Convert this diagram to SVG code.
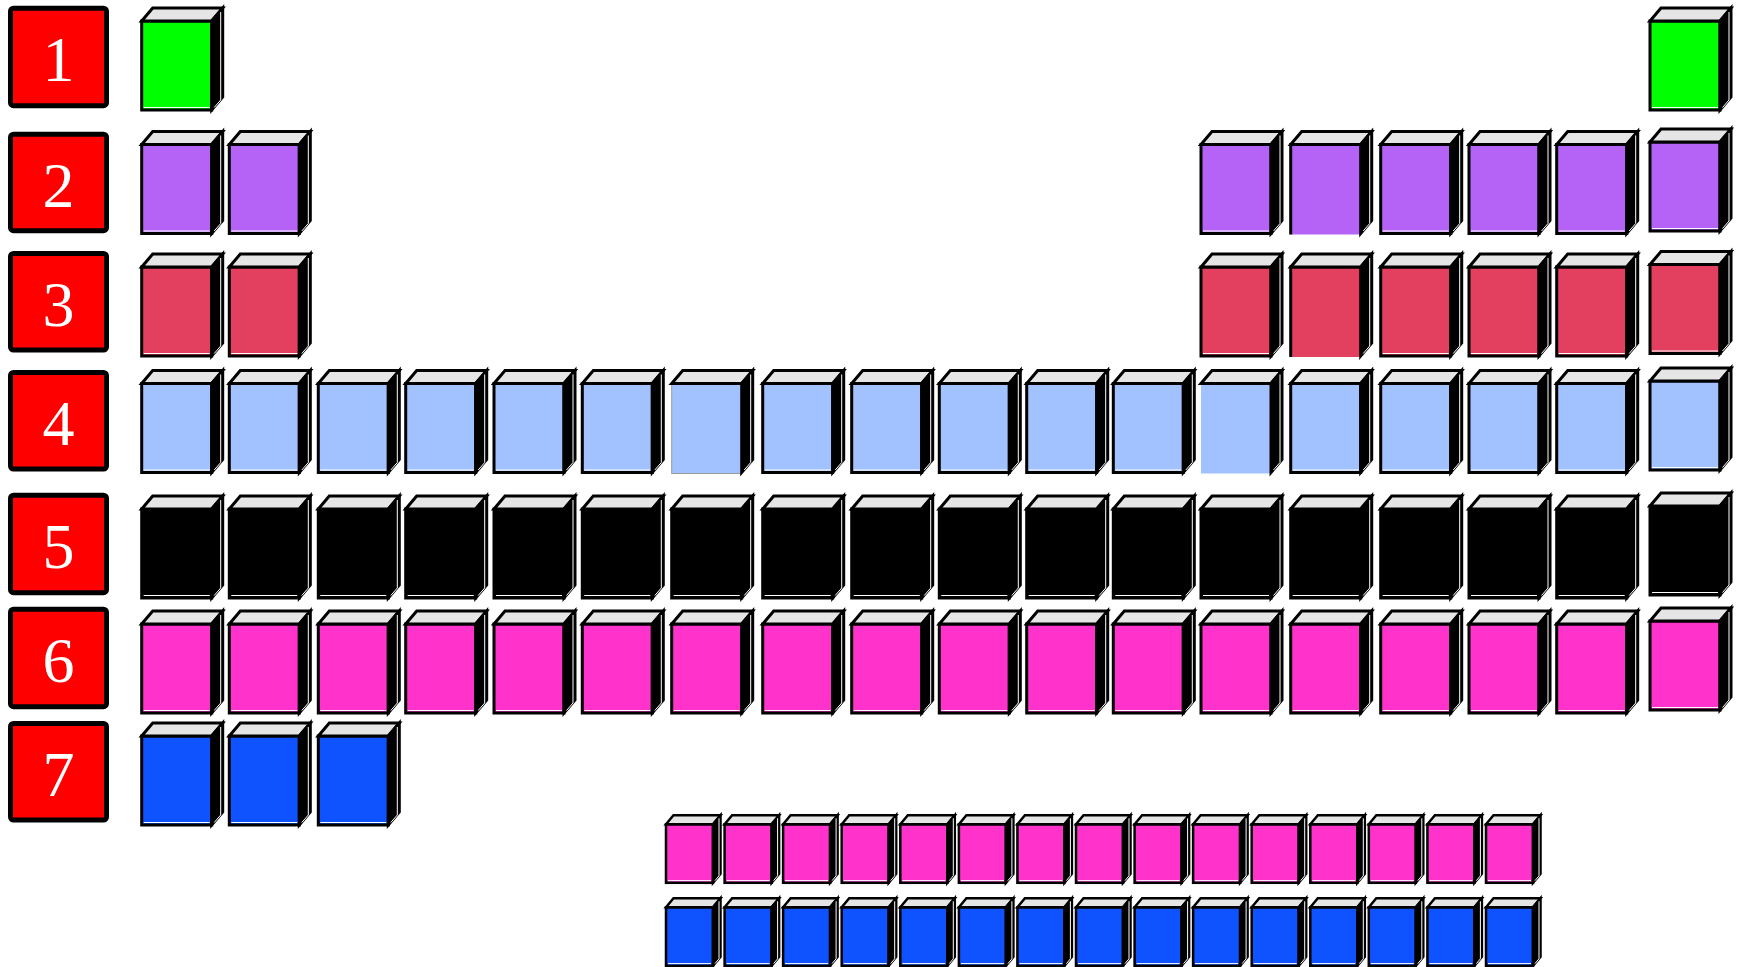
<svg xmlns="http://www.w3.org/2000/svg" xmlns:xlink="http://www.w3.org/1999/xlink" width="1737" height="967" viewBox="0 0 1737 967">
<style>
.lab rect{fill:#ff0000;stroke:#000;stroke-width:5}
.lab text{font-family:"Liberation Serif","Times New Roman",serif;font-size:64px;fill:#fff;text-anchor:middle}
.front{stroke:#000;stroke-width:3;stroke-linejoin:miter}
.top{fill:#e5e5e5;stroke:#000;stroke-width:3;stroke-linejoin:miter}
.side{fill:#000;stroke:#000;stroke-width:3;stroke-linejoin:miter}
.edge{fill:none;stroke:#000;stroke-width:3}
.hl{fill:none;stroke:#fff;stroke-width:1}
.fs{stroke:#000;stroke-width:2.5}
.ts{fill:#e5e5e5;stroke:#000;stroke-width:2.5}
.ss{fill:#000;stroke:#000;stroke-width:2.5}
.g{fill:#00ff00}.p{fill:#b563f6}.r{fill:#e3405f}.b{fill:#a2c1ff}.k{fill:#000}.m{fill:#ff33cc}.u{fill:#0f52ff}
</style>
<defs>
<g id="cube">
<rect class="front" x="0" y="0" width="70" height="89"/>
<path class="top" d="M0,0 L11,-13 L81,-13 L70,0 Z"/>
<path class="side" d="M70,0 L81,-13 L81,76 L70,89 Z"/>
<path class="hl" d="M2,86.5 H68 M72.5,86.5 L79,79 V-9"/>
</g>
<g id="cubeN">
<rect x="0" y="0" width="70" height="90"/>
<path class="top" d="M0,0 L11,-13 L81,-13 L70,0 Z"/>
<path class="side" d="M70,0 L81,-13 L81,76 L70,89 Z"/>
<path class="hl" d="M72.5,86.5 L79,79 V-9"/>
</g>
<g id="cubeG">
<rect x="0" y="0" width="70" height="90" stroke="#9a9a9a" stroke-width="1"/>
<path class="top" d="M0,0 L11,-13 L81,-13 L70,0 Z"/>
<path class="side" d="M70,0 L81,-13 L81,76 L70,89 Z"/>
<path class="hl" d="M72.5,86.5 L79,79 V-9"/>
</g>
<g id="cubeL">
<rect x="0" y="0" width="70" height="90"/>
<path class="edge" d="M0,90 V0 H70"/>
<path class="top" d="M0,0 L11,-13 L81,-13 L70,0 Z"/>
<path class="side" d="M70,0 L81,-13 L81,76 L70,89 Z"/>
<path class="hl" d="M72.5,86.5 L79,79 V-9"/>
</g>
<g id="cubeS">
<rect class="fs" x="0" y="0" width="47" height="58.5"/>
<path class="ts" d="M0,0 L7.5,-9 L54.5,-9 L47,0 Z"/>
<path class="ss" d="M47,0 L54.5,-9 L54.5,49.5 L47,58.5 Z"/>
<path class="hl" d="M2,56.3 H45 M49,56.3 L53,51.5 V-6"/>
</g>
</defs>

<g id="labels">
<g id="label1" class="lab"><rect x="10.5" y="8.2" width="96" height="97.5" rx="3"/><text x="58.5" y="80.7">1</text></g>
<g id="label2" class="lab"><rect x="10.5" y="134.2" width="96" height="96.5" rx="3"/><text x="58.5" y="207.2">2</text></g>
<g id="label3" class="lab"><rect x="10.5" y="253.5" width="96" height="96.5" rx="3"/><text x="58.5" y="326">3</text></g>
<g id="label4" class="lab"><rect x="10.5" y="372.5" width="96" height="96.5" rx="3"/><text x="58.5" y="445">4</text></g>
<g id="label5" class="lab"><rect x="10.5" y="495.2" width="96" height="97.5" rx="3"/><text x="58.5" y="568">5</text></g>
<g id="label6" class="lab"><rect x="10.5" y="609.2" width="96" height="97.5" rx="3"/><text x="58.5" y="682">6</text></g>
<g id="label7" class="lab"><rect x="10.5" y="723.5" width="96" height="96.5" rx="3"/><text x="58.5" y="796">7</text></g>
</g>

<g id="row1">
<g id="e1-1"><use href="#cube" x="141.7" y="21" class="g"/></g>
<g id="e1-18"><use href="#cube" x="1650" y="21" class="g"/></g>
</g>

<g id="row2">
<g id="e2-1"><use href="#cube" x="141.7" y="144.5" class="p"/></g>
<g id="e2-2"><use href="#cube" x="229.3" y="144.5" class="p"/></g>
<g id="e2-13"><use href="#cube" x="1201" y="144.5" class="p"/></g>
<g id="e2-14"><use href="#cubeL" x="1290.7" y="144.5" class="p"/></g>
<g id="e2-15"><use href="#cube" x="1380.7" y="144.5" class="p"/></g>
<g id="e2-16"><use href="#cube" x="1469" y="144.5" class="p"/></g>
<g id="e2-17"><use href="#cube" x="1556.7" y="144.5" class="p"/></g>
<g id="e2-18"><use href="#cube" x="1650" y="142" class="p"/></g>
</g>

<g id="row3">
<g id="e3-1"><use href="#cube" x="141.7" y="267" class="r"/></g>
<g id="e3-2"><use href="#cube" x="229.3" y="267" class="r"/></g>
<g id="e3-13"><use href="#cube" x="1201" y="267" class="r"/></g>
<g id="e3-14"><use href="#cubeL" x="1290.7" y="267" class="r"/></g>
<g id="e3-15"><use href="#cube" x="1380.7" y="267" class="r"/></g>
<g id="e3-16"><use href="#cube" x="1469" y="267" class="r"/></g>
<g id="e3-17"><use href="#cube" x="1556.7" y="267" class="r"/></g>
<g id="e3-18"><use href="#cube" x="1650" y="264.5" class="r"/></g>
</g>

<g id="row4">
<g id="e4-1"><use href="#cube" x="141.7" y="383.5" class="b"/></g>
<g id="e4-2"><use href="#cube" x="229.3" y="383.5" class="b"/></g>
<g id="e4-3"><use href="#cube" x="318.3" y="383.5" class="b"/></g>
<g id="e4-4"><use href="#cube" x="405.7" y="383.5" class="b"/></g>
<g id="e4-5"><use href="#cube" x="494" y="383.5" class="b"/></g>
<g id="e4-6"><use href="#cube" x="582.3" y="383.5" class="b"/></g>
<g id="e4-7"><use href="#cubeG" x="671.7" y="383.5" class="b"/></g>
<g id="e4-8"><use href="#cube" x="762.7" y="383.5" class="b"/></g>
<g id="e4-9"><use href="#cube" x="851.7" y="383.5" class="b"/></g>
<g id="e4-10"><use href="#cube" x="939.3" y="383.5" class="b"/></g>
<g id="e4-11"><use href="#cube" x="1026.7" y="383.5" class="b"/></g>
<g id="e4-12"><use href="#cube" x="1113.3" y="383.5" class="b"/></g>
<g id="e4-13"><use href="#cubeN" x="1201" y="383.5" class="b"/></g>
<g id="e4-14"><use href="#cube" x="1290.7" y="383.5" class="b"/></g>
<g id="e4-15"><use href="#cube" x="1380.7" y="383.5" class="b"/></g>
<g id="e4-16"><use href="#cube" x="1469" y="383.5" class="b"/></g>
<g id="e4-17"><use href="#cube" x="1556.7" y="383.5" class="b"/></g>
<g id="e4-18"><use href="#cube" x="1650" y="381" class="b"/></g>
</g>

<g id="row5">
<g id="e5-1"><use href="#cube" x="141.7" y="509" class="k"/></g>
<g id="e5-2"><use href="#cube" x="229.3" y="509" class="k"/></g>
<g id="e5-3"><use href="#cube" x="318.3" y="509" class="k"/></g>
<g id="e5-4"><use href="#cube" x="405.7" y="509" class="k"/></g>
<g id="e5-5"><use href="#cube" x="494" y="509" class="k"/></g>
<g id="e5-6"><use href="#cube" x="582.3" y="509" class="k"/></g>
<g id="e5-7"><use href="#cube" x="671.7" y="509" class="k"/></g>
<g id="e5-8"><use href="#cube" x="762.7" y="509" class="k"/></g>
<g id="e5-9"><use href="#cube" x="851.7" y="509" class="k"/></g>
<g id="e5-10"><use href="#cube" x="939.3" y="509" class="k"/></g>
<g id="e5-11"><use href="#cube" x="1026.7" y="509" class="k"/></g>
<g id="e5-12"><use href="#cube" x="1113.3" y="509" class="k"/></g>
<g id="e5-13"><use href="#cube" x="1201" y="509" class="k"/></g>
<g id="e5-14"><use href="#cube" x="1290.7" y="509" class="k"/></g>
<g id="e5-15"><use href="#cube" x="1380.7" y="509" class="k"/></g>
<g id="e5-16"><use href="#cube" x="1469" y="509" class="k"/></g>
<g id="e5-17"><use href="#cube" x="1556.7" y="509" class="k"/></g>
<g id="e5-18"><use href="#cube" x="1650" y="506" class="k"/></g>
</g>

<g id="row6">
<g id="e6-1"><use href="#cube" x="141.7" y="624" class="m"/></g>
<g id="e6-2"><use href="#cube" x="229.3" y="624" class="m"/></g>
<g id="e6-3"><use href="#cube" x="318.3" y="624" class="m"/></g>
<g id="e6-4"><use href="#cube" x="405.7" y="624" class="m"/></g>
<g id="e6-5"><use href="#cube" x="494" y="624" class="m"/></g>
<g id="e6-6"><use href="#cube" x="582.3" y="624" class="m"/></g>
<g id="e6-7"><use href="#cube" x="671.7" y="624" class="m"/></g>
<g id="e6-8"><use href="#cube" x="762.7" y="624" class="m"/></g>
<g id="e6-9"><use href="#cube" x="851.7" y="624" class="m"/></g>
<g id="e6-10"><use href="#cube" x="939.3" y="624" class="m"/></g>
<g id="e6-11"><use href="#cube" x="1026.7" y="624" class="m"/></g>
<g id="e6-12"><use href="#cube" x="1113.3" y="624" class="m"/></g>
<g id="e6-13"><use href="#cube" x="1201" y="624" class="m"/></g>
<g id="e6-14"><use href="#cube" x="1290.7" y="624" class="m"/></g>
<g id="e6-15"><use href="#cube" x="1380.7" y="624" class="m"/></g>
<g id="e6-16"><use href="#cube" x="1469" y="624" class="m"/></g>
<g id="e6-17"><use href="#cube" x="1556.7" y="624" class="m"/></g>
<g id="e6-18"><use href="#cube" x="1650" y="621" class="m"/></g>
</g>

<g id="row7">
<g id="e7-1"><use href="#cube" x="141.7" y="736" class="u"/></g>
<g id="e7-2"><use href="#cube" x="229.3" y="736" class="u"/></g>
<g id="e7-3"><use href="#cube" x="318.3" y="736" class="u"/></g>
</g>

<g id="lanthanides">
<g id="la1"><use href="#cubeS" x="666" y="824.3" class="m"/></g>
<g id="la2"><use href="#cubeS" x="724.6" y="824.3" class="m"/></g>
<g id="la3"><use href="#cubeS" x="783.1" y="824.3" class="m"/></g>
<g id="la4"><use href="#cubeS" x="841.7" y="824.3" class="m"/></g>
<g id="la5"><use href="#cubeS" x="900.3" y="824.3" class="m"/></g>
<g id="la6"><use href="#cubeS" x="958.9" y="824.3" class="m"/></g>
<g id="la7"><use href="#cubeS" x="1017.4" y="824.3" class="m"/></g>
<g id="la8"><use href="#cubeS" x="1076" y="824.3" class="m"/></g>
<g id="la9"><use href="#cubeS" x="1134.6" y="824.3" class="m"/></g>
<g id="la10"><use href="#cubeS" x="1193.1" y="824.3" class="m"/></g>
<g id="la11"><use href="#cubeS" x="1251.7" y="824.3" class="m"/></g>
<g id="la12"><use href="#cubeS" x="1310.3" y="824.3" class="m"/></g>
<g id="la13"><use href="#cubeS" x="1368.8" y="824.3" class="m"/></g>
<g id="la14"><use href="#cubeS" x="1427.4" y="824.3" class="m"/></g>
<g id="la15"><use href="#cubeS" x="1486" y="824.3" class="m"/></g>
</g>

<g id="actinides">
<g id="ac1"><use href="#cubeS" x="666" y="907.3" class="u"/></g>
<g id="ac2"><use href="#cubeS" x="724.6" y="907.3" class="u"/></g>
<g id="ac3"><use href="#cubeS" x="783.1" y="907.3" class="u"/></g>
<g id="ac4"><use href="#cubeS" x="841.7" y="907.3" class="u"/></g>
<g id="ac5"><use href="#cubeS" x="900.3" y="907.3" class="u"/></g>
<g id="ac6"><use href="#cubeS" x="958.9" y="907.3" class="u"/></g>
<g id="ac7"><use href="#cubeS" x="1017.4" y="907.3" class="u"/></g>
<g id="ac8"><use href="#cubeS" x="1076" y="907.3" class="u"/></g>
<g id="ac9"><use href="#cubeS" x="1134.6" y="907.3" class="u"/></g>
<g id="ac10"><use href="#cubeS" x="1193.1" y="907.3" class="u"/></g>
<g id="ac11"><use href="#cubeS" x="1251.7" y="907.3" class="u"/></g>
<g id="ac12"><use href="#cubeS" x="1310.3" y="907.3" class="u"/></g>
<g id="ac13"><use href="#cubeS" x="1368.8" y="907.3" class="u"/></g>
<g id="ac14"><use href="#cubeS" x="1427.4" y="907.3" class="u"/></g>
<g id="ac15"><use href="#cubeS" x="1486" y="907.3" class="u"/></g>
</g>

<g id="connectors"></g>
</svg>
